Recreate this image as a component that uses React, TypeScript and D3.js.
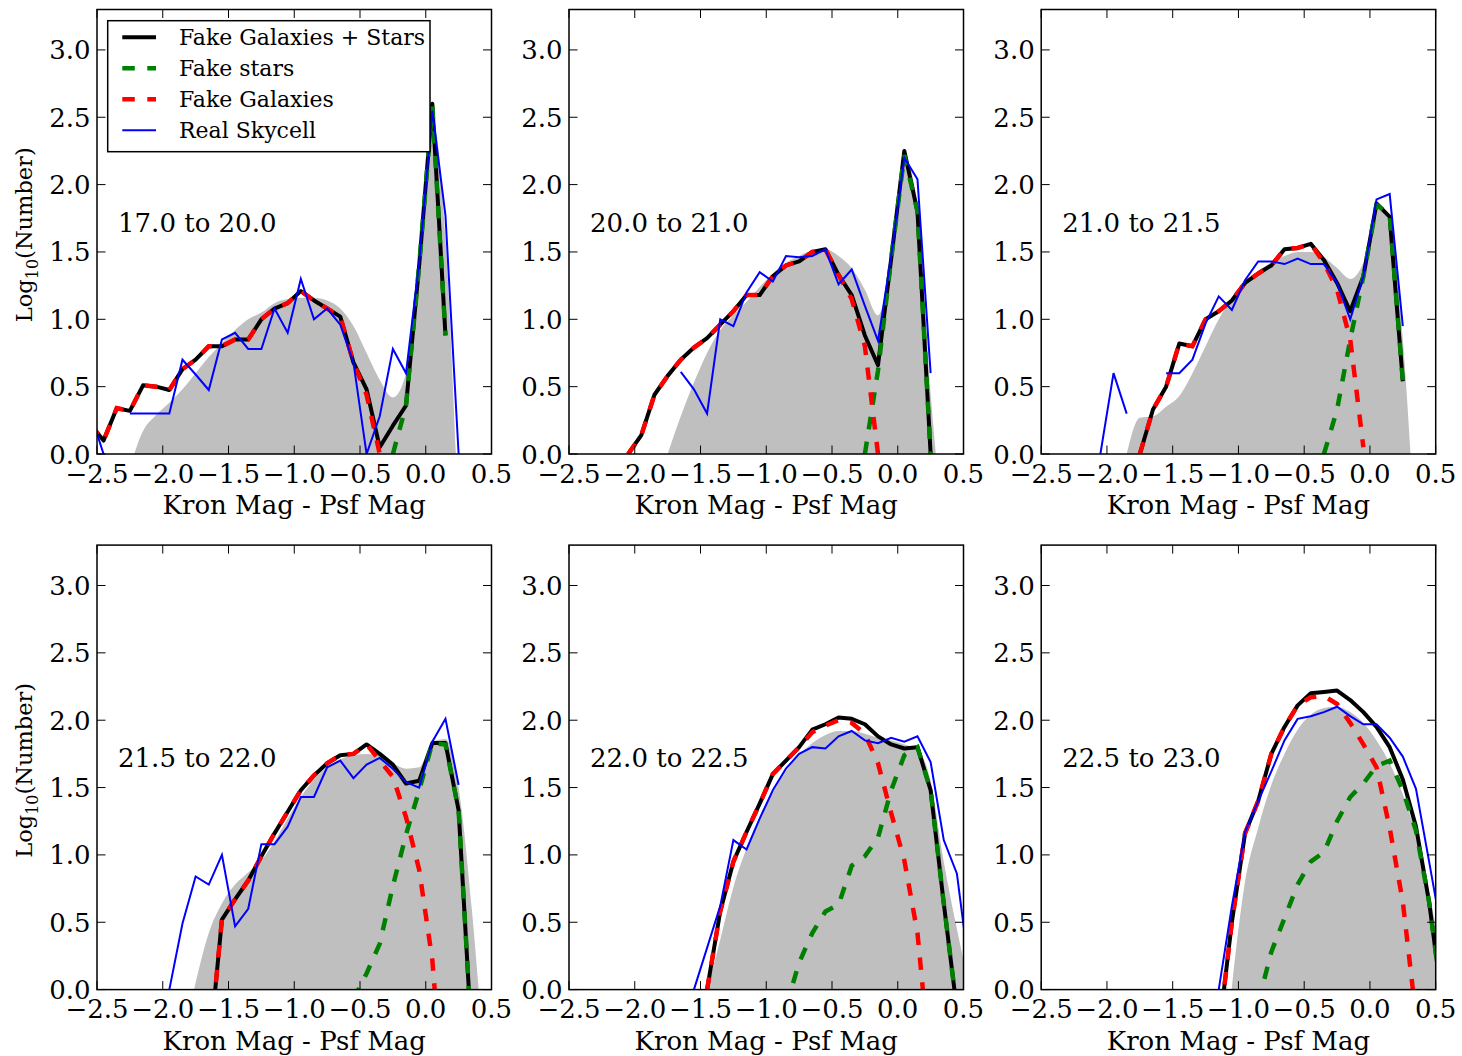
import React from 'react';
import * as d3 from 'd3';

const _ = null;

// bin centres (Kron Mag - Psf Mag)
const BINS = [-2.55, -2.45, -2.35, -2.25, -2.15, -2.05, -1.95, -1.85,
  -1.75, -1.65, -1.55, -1.45, -1.35, -1.25, -1.15, -1.05,
  -0.95, -0.85, -0.75, -0.65, -0.55, -0.45, -0.35, -0.25,
  -0.15, -0.05, 0.05, 0.15, 0.25, 0.35, 0.45, 0.55];

const X_TICKS = [-2.5, -2.0, -1.5, -1.0, -0.5, 0.0, 0.5];
const Y_TICKS = [0.0, 0.5, 1.0, 1.5, 2.0, 2.5, 3.0];

// ---- Panel 1: 17.0 to 20.0
const p1Total = [0.22, 0.10, 0.34, 0.32, 0.51, 0.50, 0.475, 0.63,
  0.70, 0.80, 0.80, 0.85, 0.85, 1.00, 1.08, 1.12,
  1.21, 1.14, 1.08, 1.02, 0.68, 0.48, 0.05, 0.21,
  0.36, 1.40, 2.60, 0.88, _, _, _, _];
const p1Stars = [_, _, _, _, _, _, _, _,
  _, _, _, _, _, _, _, _,
  _, _, _, _, _, _, _, 0.0,
  0.36, 1.40, 2.58, 0.88, _, _, _, _];
const p1Gal = [0.22, 0.10, 0.34, 0.32, 0.51, 0.50, 0.475, 0.63,
  0.70, 0.80, 0.80, 0.85, 0.85, 1.00, 1.08, 1.12,
  1.21, 1.14, 1.08, 1.02, 0.68, 0.44, 0.0, _,
  _, _, _, _, _, _, _, _];
const p1Real = [0.30, 0.0, _, 0.30, 0.30, 0.30, 0.30, 0.70,
  0.59, 0.475, 0.85, 0.90, 0.78, 0.78, 1.08, 0.90,
  1.30, 1.00, 1.08, 0.96, 0.68, 0.0, 0.28, 0.78,
  0.60, 1.42, 2.55, 1.77, 0.0, _, _, _];
const p1Gray = [_, _, _, -0.1, 0.17, 0.29, 0.38, 0.48,
  0.60, 0.72, 0.82, 0.92, 1.00, 1.05, 1.12, 1.15,
  1.16, 1.16, 1.14, 1.08, 0.95, 0.75, 0.55, 0.42,
  0.60, 1.40, 2.50, 1.60, -0.5, _, _, _];

// ---- Panel 2: 20.0 to 21.0
const p2Total = [_, _, _, _, _, 0.0, 0.14, 0.44,
  0.58, 0.70, 0.79, 0.86, 0.96, 1.06, 1.18, 1.18,
  1.32, 1.40, 1.43, 1.50, 1.52, 1.33, 1.18, 0.88,
  0.66, 1.45, 2.25, 1.80, 0.0, _, _, _];
const p2Stars = [_, _, _, _, _, _, _, _,
  _, _, _, _, _, _, _, _,
  _, _, _, _, _, _, _, 0.0,
  0.62, 1.45, 2.22, 1.80, 0.0, _, _, _];
const p2Gal = [_, _, _, _, _, 0.0, 0.14, 0.44,
  0.58, 0.70, 0.79, 0.86, 0.96, 1.06, 1.18, 1.18,
  1.32, 1.40, 1.43, 1.50, 1.52, 1.33, 1.15, 0.80,
  0.0, _, _, _, _, _, _, _];
const p2Real = [_, _, _, _, _, _, _, _,
  _, 0.61, 0.48, 0.30, 1.00, 0.95, 1.20, 1.35,
  1.28, 1.47, 1.46, 1.47, 1.52, 1.26, 1.37, 1.10,
  0.84, 1.47, 2.20, 2.04, 0.60, _, _, _];
const p2Gray = [_, _, _, _, _, _, _, _,
  0.0, 0.28, 0.53, 0.75, 0.92, 1.03, 1.13, 1.24,
  1.34, 1.42, 1.47, 1.51, 1.52, 1.47, 1.38, 1.22,
  1.03, 1.45, 2.20, 1.85, 0.45, -0.6, _, _];

// ---- Panel 3: 21.0 to 21.5
const p3Total = [_, _, _, _, _, _, _, _,
  0.0, 0.33, 0.50, 0.82, 0.80, 1.00, 1.06, 1.14,
  1.27, 1.34, 1.40, 1.52, 1.53, 1.56, 1.44, 1.27,
  1.06, 1.32, 1.86, 1.76, 0.54, _, _, _];
const p3Stars = [_, _, _, _, _, _, _, _,
  _, _, _, _, _, _, _, _,
  _, _, _, _, _, _, 0.0, 0.33,
  0.85, 1.32, 1.85, 1.78, 0.54, _, _, _];
const p3Gal = [_, _, _, _, _, _, _, _,
  0.0, 0.33, 0.50, 0.82, 0.80, 1.00, 1.06, 1.14,
  1.27, 1.34, 1.40, 1.52, 1.53, 1.56, 1.42, 1.22,
  0.85, 0.05, _, _, _, _, _, _];
const p3Real = [_, _, _, _, _, 0.0, 0.60, 0.30,
  _, _, 0.60, 0.60, 0.70, 0.97, 1.17, 1.07,
  1.29, 1.43, 1.43, 1.41, 1.45, 1.41, 1.41, 1.27,
  1.00, 1.32, 1.89, 1.93, 0.95, _, _, _];
const p3Gray = [_, _, _, _, _, _, _, 0.0,
  0.27, 0.28, 0.35, 0.43, 0.60, 0.80, 1.00, 1.15,
  1.27, 1.36, 1.42, 1.47, 1.50, 1.50, 1.46, 1.38,
  1.30, 1.42, 1.82, 1.72, 0.85, -0.7, _, _];

// ---- Panel 4: 21.5 to 22.0
const p4Total = [_, _, _, _, _, _, _, _,
  _, -0.5, 0.52, 0.67, 0.81, 0.99, 1.16, 1.32,
  1.48, 1.59, 1.68, 1.74, 1.75, 1.82, 1.75, 1.67,
  1.53, 1.55, 1.83, 1.83, 1.33, -0.38, _, _];
const p4Stars = [_, _, _, _, _, _, _, _,
  _, _, _, _, _, _, _, _,
  _, _, _, _, -0.07, 0.12, 0.34, 0.77,
  1.15, 1.48, 1.83, 1.82, 1.33, -0.38, _, _];
const p4Gal = [_, _, _, _, _, _, _, _,
  _, -0.5, 0.52, 0.67, 0.81, 0.99, 1.16, 1.32,
  1.48, 1.59, 1.68, 1.74, 1.75, 1.82, 1.70, 1.58,
  1.28, 0.89, 0.22, -1.0, _, _, _, _];
const p4Real = [_, _, _, _, _, _, 0.0, 0.49,
  0.84, 0.78, 1.00, 0.47, 0.60, 1.08, 1.08, 1.21,
  1.43, 1.43, 1.65, 1.70, 1.57, 1.67, 1.72, 1.64,
  1.54, 1.50, 1.84, 2.01, 1.52, _, _, _];
const p4Gray = [_, _, _, _, _, _, _, -0.4,
  0.05, 0.42, 0.64, 0.78, 0.87, 0.96, 1.10, 1.27,
  1.43, 1.56, 1.65, 1.71, 1.74, 1.75, 1.74, 1.68,
  1.64, 1.65, 1.84, 1.86, 1.50, 0.60, -0.6, _];

// ---- Panel 5: 22.0 to 22.5
const p5Total = [_, _, _, _, _, _, _, _,
  _, _, _, 0.0, 0.58, 0.95, 1.17, 1.38,
  1.60, 1.70, 1.80, 1.93, 1.97, 2.02, 2.01, 1.97,
  1.88, 1.82, 1.79, 1.80, 1.48, 0.64, -0.15, _];
const p5Stars = [_, _, _, _, _, _, _, _,
  _, _, _, _, _, _, _, _,
  _, -0.13, 0.20, 0.42, 0.58, 0.63, 0.92, 0.99,
  1.13, 1.48, 1.74, 1.80, 1.48, 0.64, -0.15, _];
const p5Gal = [_, _, _, _, _, _, _, _,
  _, _, _, 0.0, 0.58, 0.95, 1.17, 1.38,
  1.60, 1.70, 1.80, 1.91, 1.96, 2.00, 1.98, 1.90,
  1.68, 1.31, 0.96, 0.42, -0.6, _, _, _];
const p5Real = [_, _, _, _, _, _, _, _,
  _, _, 0.0, 0.31, 0.62, 1.11, 1.04, 1.27,
  1.48, 1.64, 1.75, 1.80, 1.79, 1.88, 1.92, 1.85,
  1.83, 1.87, 1.84, 1.88, 1.69, 1.11, 0.86, 0.10];
const p5Gray = [_, _, _, _, _, _, _, _,
  _, _, _, 0.0, 0.37, 0.76, 1.05, 1.28,
  1.46, 1.62, 1.74, 1.83, 1.89, 1.92, 1.92, 1.90,
  1.87, 1.85, 1.82, 1.78, 1.55, 0.95, 0.45, 0.0];

// ---- Panel 6: 22.5 to 23.0
const p6Total = [_, _, _, _, _, _, _, _,
  _, _, _, _, _, _, -0.33, 0.50,
  1.16, 1.40, 1.75, 1.95, 2.11, 2.20, 2.21, 2.22,
  2.15, 2.06, 1.95, 1.80, 1.56, 1.21, 0.65, -0.1];
const p6Stars = [_, _, _, _, _, _, _, _,
  _, _, _, _, _, _, _, _,
  _, -0.1, 0.28, 0.53, 0.78, 0.95, 1.02, 1.25,
  1.43, 1.53, 1.66, 1.70, 1.48, 1.18, 0.65, -0.1];
const p6Gal = [_, _, _, _, _, _, _, _,
  _, _, _, _, _, _, -0.33, 0.50,
  1.16, 1.40, 1.75, 1.95, 2.11, 2.17, 2.18, 2.12,
  1.98, 1.82, 1.65, 1.20, 0.65, -0.2, _, _];
const p6Real = [_, _, _, _, _, _, _, _,
  _, _, _, _, _, _, 0.0, 0.62,
  1.17, 1.40, 1.62, 1.85, 2.01, 2.03, 2.06, 2.10,
  2.03, 1.97, 1.97, 1.87, 1.73, 1.49, 0.95, 0.40];
const p6Gray = [_, _, _, _, _, _, _, _,
  _, _, _, _, _, _, _, 0.02,
  0.80, 1.20, 1.52, 1.75, 1.93, 2.04, 2.09, 2.10,
  2.06, 1.98, 1.85, 1.68, 1.45, 1.15, 0.72, 0.20];

const PANEL_LABELS = ['17.0 to 20.0', '20.0 to 21.0', '21.0 to 21.5', '21.5 to 22.0', '22.0 to 22.5', '22.5 to 23.0'];
const TOTALS = [p1Total, p2Total, p3Total, p4Total, p5Total, p6Total];
const STARS = [p1Stars, p2Stars, p3Stars, p4Stars, p5Stars, p6Stars];
const GALAXIES = [p1Gal, p2Gal, p3Gal, p4Gal, p5Gal, p6Gal];
const REAL = [p1Real, p2Real, p3Real, p4Real, p5Real, p6Real];
const GRAY = [p1Gray, p2Gray, p3Gray, p4Gray, p5Gray, p6Gray];

const LEGEND = [
  { label: 'Fake Galaxies + Stars', color: '#000000', width: 4, dash: '' },
  { label: 'Fake stars', color: '#008000', width: 4.5, dash: '12.5 12.5' },
  { label: 'Fake Galaxies', color: '#ff0000', width: 4.5, dash: '12.5 12.5' },
  { label: 'Real Skycell', color: '#0000ff', width: 2, dash: '' },
];

const FONT = 'DejaVu Serif';
const FS = 26;
const PLOT_W = 394.5;
const PLOT_H = 444.5;
const COL_X = [97, 569, 1041.2];
const ROW_Y = [9.5, 545.1];

const fmt = (t: number) => t.toFixed(1).replace('-', '\u2212');

function Panel({ idx }: { idx: number }) {
  const col = idx % 3;
  const row = Math.floor(idx / 3);
  const x = d3.scaleLinear().domain([-2.5, 0.5]).range([0, PLOT_W]);
  const y = d3.scaleLinear().domain([0, 3.3]).range([PLOT_H, 0]);
  const line = d3.line<number | null>()
    .defined((v) => v != null)
    .x((_v, i) => x(BINS[i]))
    .y((v) => y(v as number));
  const area = d3.area<number | null>()
    .defined((v) => v != null)
    .x((_v, i) => x(BINS[i]))
    .y0(y(0))
    .y1((v) => y(v as number))
    .curve(d3.curveMonotoneX);
  const clipId = `clip-${idx}`;
  const tickLen = 8.5;
  return (
    <g transform={`translate(${COL_X[col]},${ROW_Y[row]})`}>
      <defs>
        <clipPath id={clipId}>
          <rect x={0} y={0} width={PLOT_W} height={PLOT_H} />
        </clipPath>
      </defs>
      <g clipPath={`url(#${clipId})`}>
        <path d={area(GRAY[idx]) || ''} fill="#bfbfbf" stroke="none" />
        <path d={line(TOTALS[idx]) || ''} fill="none" stroke="#000" strokeWidth={4} strokeLinejoin="round" />
        <path d={line(STARS[idx]) || ''} fill="none" stroke="#008000" strokeWidth={4.5} strokeDasharray="12.5 12.5" />
        <path d={line(GALAXIES[idx]) || ''} fill="none" stroke="#ff0000" strokeWidth={4.5} strokeDasharray="12.5 12.5" />
        <path d={line(REAL[idx]) || ''} fill="none" stroke="#0000ff" strokeWidth={2} />
      </g>
      <text x={x(-2.34)} y={y(1.65)} fontFamily={FONT} fontSize={FS} fill="#000">{PANEL_LABELS[idx]}</text>
      {X_TICKS.map((t) => (
        <g key={`xt${t}`}>
          <line x1={x(t)} x2={x(t)} y1={PLOT_H} y2={PLOT_H - tickLen} stroke="#000" strokeWidth={1} />
          <line x1={x(t)} x2={x(t)} y1={0} y2={tickLen} stroke="#000" strokeWidth={1} />
          <text x={x(t)} y={PLOT_H + 28.5} textAnchor="middle" fontFamily={FONT} fontSize={FS} fill="#000">{fmt(t)}</text>
        </g>
      ))}
      {Y_TICKS.map((t) => (
        <g key={`yt${t}`}>
          <line x1={0} x2={tickLen} y1={y(t)} y2={y(t)} stroke="#000" strokeWidth={1} />
          <line x1={PLOT_W} x2={PLOT_W - tickLen} y1={y(t)} y2={y(t)} stroke="#000" strokeWidth={1} />
          <text x={-6.5} y={y(t) + 9.5} textAnchor="end" fontFamily={FONT} fontSize={FS} fill="#000">{fmt(t)}</text>
        </g>
      ))}
      <rect x={0} y={0} width={PLOT_W} height={PLOT_H} fill="none" stroke="#000" strokeWidth={1.5} />
      <text x={PLOT_W / 2} y={PLOT_H + 60} textAnchor="middle" fontFamily={FONT} fontSize={FS} fill="#000">Kron Mag - Psf Mag</text>
      {col === 0 && (
        <text transform={`translate(-65,${PLOT_H / 2 + 3}) rotate(-90)`} textAnchor="middle" fontFamily={FONT} fontSize={22.5} fill="#000">
          <tspan>Log</tspan>
          <tspan dy={6} fontSize={16}>10</tspan>
          <tspan dy={-6}>(Number)</tspan>
        </text>
      )}
      {idx === 0 && (
        <g transform="translate(10.7,11.2)">
          <rect x={0} y={0} width={322.3} height={131} fill="#fff" stroke="#000" strokeWidth={1.5} />
          {LEGEND.map((e, i) => (
            <g key={e.label} transform={`translate(0,${24.3 + i * 31})`}>
              <line x1={14.6} x2={48.3} y1={-7.7} y2={-7.7} stroke={e.color} strokeWidth={e.width} strokeDasharray={e.dash || undefined} />
              <text x={71.3} y={0} fontFamily={FONT} fontSize={22} fill="#000">{e.label}</text>
            </g>
          ))}
        </g>
      )}
    </g>
  );
}

export default function App() {
  return (
    <svg width={1462} height={1056} style={{ position: 'absolute', left: 0, top: 0, background: '#fff' }}>
      <rect x={0} y={0} width={1462} height={1056} fill="#fff" />
      {[0, 1, 2, 3, 4, 5].map((i) => <Panel key={i} idx={i} />)}
    </svg>
  );
}
